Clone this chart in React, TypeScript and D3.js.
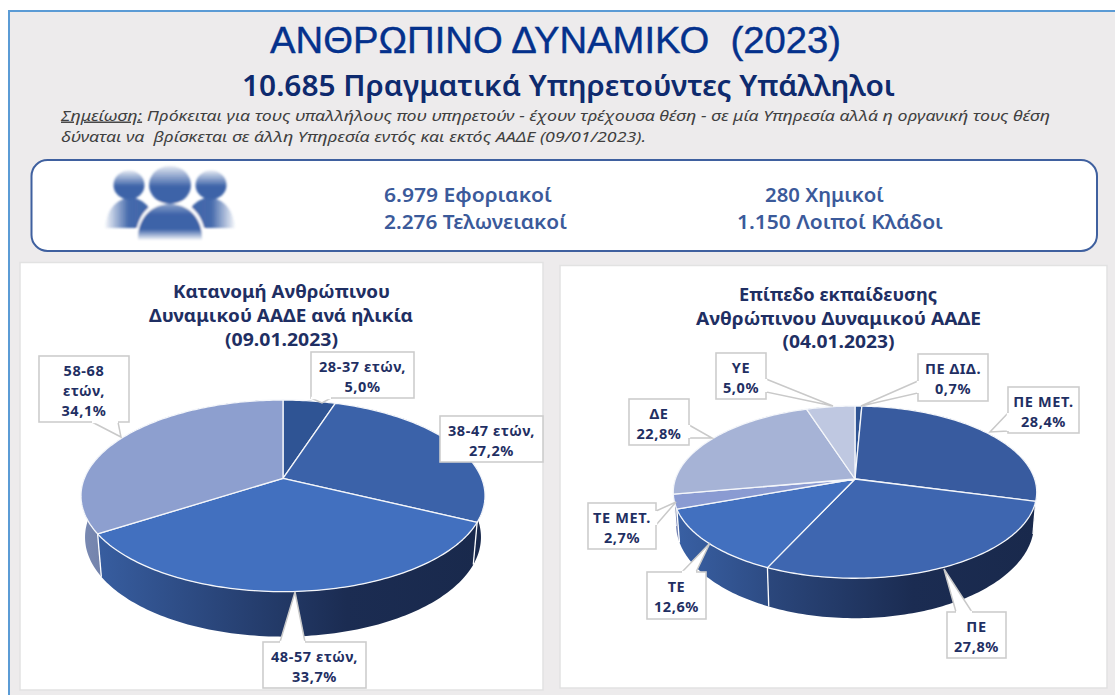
import React from "react";
import * as d3 from "d3";

const ageLabels = [["28-37 ετών,", "5,0%"], ["38-47 ετών,", "27,2%"], ["48-57 ετών,", "33,7%"], ["58-68", "ετών,", "34,1%"]];
const ageValues = [5.0, 27.2, 33.7, 34.1];
const ageColors = ["#2f5494", "#3b62a9", "#4270bf", "#8d9fcf"];

const eduLabels = [["ΠΕ ΔΙΔ.", "0,7%"], ["ΠΕ ΜΕΤ.", "28,4%"], ["ΠΕ", "27,8%"], ["ΤΕ", "12,6%"], ["ΤΕ ΜΕΤ.", "2,7%"], ["ΔΕ", "22,8%"], ["ΥΕ", "5,0%"]];
const eduValues = [0.7, 28.4, 27.8, 12.6, 2.7, 22.8, 5.0];
const eduColors = ["#2f5494", "#385b9f", "#3e66b0", "#4270bf", "#8a9bd2", "#a6b3d6", "#bfc8e1"];

const staffLeft = ["6.979 Εφοριακοί", "2.276 Τελωνειακοί"];
const staffRight = ["280 Χημικοί", "1.150 Λοιποί Κλάδοι"];
const ageTitle = ["Κατανομή Ανθρώπινου", "Δυναμικού ΑΑΔΕ ανά ηλικία", "(09.01.2023)"];
const eduTitle = ["Επίπεδο εκπαίδευσης", "Ανθρώπινου Δυναμικού ΑΑΔΕ", "(04.01.2023)"];

type Geo = { id: string; cx: number; cy: number; s: number; t: number; k: number; a: number; d: number; xs: number };
const ageGeo: Geo = { id: "age", cx: 283, cy: 478.3, s: 198.6, t: 92.6, k: 0.183, a: 1.038, d: 40.7, xs: 0.98 };
const eduGeo: Geo = { id: "edu", cx: 855, cy: 479, s: 179.6, t: 84.1, k: 0.1526, a: 1.094, d: 30.6, xs: 0.985 };

// box [x0,y0,x1,y1], wedge [bx0,by0,bx1,by1,tipx,tipy]
const ageCallouts = [
  { box: [311, 352, 414, 398], wedge: [311, 398, 331, 398, 322, 403] },
  { box: [440, 416, 543, 462], wedge: null },
  { box: [263, 642, 366, 688], wedge: [280, 642, 305, 642, 295, 592] },
  { box: [39, 356, 129, 422], wedge: [92, 422, 118, 422, 121, 437] },
];
const eduCallouts = [
  { box: [918, 354, 988, 401], wedge: [918, 381, 918, 393, 861, 406] },
  { box: [1008, 387, 1079, 433], wedge: [1008, 413, 1008, 431, 990, 432] },
  { box: [947, 612, 1006, 658], wedge: [956, 612, 972, 612, 944, 569] },
  { box: [647, 572, 706, 619], wedge: [682, 572, 696, 572, 710, 543] },
  { box: [588, 503, 656, 549], wedge: [656, 511, 656, 525, 676, 502] },
  { box: [629, 399, 689, 445], wedge: [689, 425, 689, 438, 712, 438] },
  { box: [716, 353, 766, 399], wedge: [766, 379, 766, 392, 833, 406] },
];

const SANS = "'Noto Sans', 'Open Sans', sans-serif";
const NAVY = "#1f2f63";

function Pie3D({ geo, values, colors, labels, callouts }: { geo: Geo; values: number[]; colors: string[]; labels: string[][]; callouts: any[] }) {
  const arcs = d3.pie<number>().sort(null)(values);
  const top = (ang: number): [number, number] => {
    const u = Math.sin(ang), v = -Math.cos(ang), w = 1 - geo.k * v;
    return [geo.cx + (geo.s * u) / w, geo.cy + (geo.t * v) / w];
  };
  const bot = (ang: number): [number, number] => {
    const [x, y] = top(ang);
    return [geo.cx + (x - geo.cx) * geo.xs, geo.cy + (y - geo.cy) * geo.a + geo.d];
  };
  const line = d3.line();
  const samples = (a0: number, a1: number) => {
    const n = Math.max(2, Math.ceil((a1 - a0) / 0.02));
    return d3.range(n + 1).map((i) => a0 + ((a1 - a0) * i) / n);
  };
  const dark = (c: string) => d3.interpolateRgb(c, "#000")(0.14);
  return (
    <g>
      <defs>
        {arcs.map((a, i) => (
          <linearGradient key={i} id={`${geo.id}-w${i}`} gradientUnits="userSpaceOnUse" x1={geo.cx - geo.s} x2={geo.cx + geo.s} y1={0} y2={0}>
            <stop offset="0" stopColor={dark(colors[i])} />
            <stop offset="0.66" stopColor="#1b2c52" />
            <stop offset="1" stopColor="#19294c" />
          </linearGradient>
        ))}
      </defs>
      {arcs.map((a, i) => {
        const ss = samples(a.startAngle, a.endAngle);
        const d = line([...ss.map(top), ...ss.slice().reverse().map(bot)]) + "Z";
        return <path key={i} d={d} fill={`url(#${geo.id}-w${i})`} />;
      })}
      {arcs.map((a, i) => {
        const p0 = top(a.startAngle), p1 = bot(a.startAngle);
        const front = Math.cos(a.startAngle) < 0.35;
        return front ? <line key={i} x1={p0[0]} y1={p0[1]} x2={p1[0]} y2={p1[1]} stroke="#fff" strokeWidth={1.3} /> : null;
      })}
      {arcs.map((a, i) => {
        const d = line([[geo.cx, geo.cy], ...samples(a.startAngle, a.endAngle).map(top)]) + "Z";
        return <path key={i} d={d} fill={colors[i]} stroke="#f4f6fa" strokeWidth={1.3} strokeLinejoin="round" />;
      })}
      {callouts.map((c, i) => {
        const [x0, y0, x1, y1] = c.box;
        return (
          <g key={i}>
            {c.wedge && (
              <path d={`M${c.wedge[0]},${c.wedge[1]}L${c.wedge[4]},${c.wedge[5]}L${c.wedge[2]},${c.wedge[3]}Z`} fill="#fff" stroke="#c9c9c9" strokeWidth={1.5} />
            )}
            <rect x={x0} y={y0} width={x1 - x0} height={y1 - y0} fill="#fff" stroke="#cdcdcd" strokeWidth={1.6} />
            {c.wedge && (
              <line x1={c.wedge[0]} y1={c.wedge[1]} x2={c.wedge[2]} y2={c.wedge[3]} stroke="#fff" strokeWidth={2.4} />
            )}
            {labels[i].map((l, j) => (
              <text key={j} x={(x0 + x1) / 2} y={y0 + 20 + j * 20} textAnchor="middle" fontFamily={SANS} fontWeight={700} fontSize={14.5} letterSpacing={0.6} fill={NAVY}>{l}</text>
            ))}
          </g>
        );
      })}
    </g>
  );
}

function People() {
  const bodies = [
    "M105,228 C107,208 117,199 131,197 C143,199 154,208 157,228 Z",
    "M183,228 C186,208 197,199 209,197 C223,199 233,208 235,228 Z",
  ];
  return (
    <g>
      <defs>
        <linearGradient id="pv" x1="0" x2="0" y1="0" y2="1">
          <stop offset="0" stopColor="#3d63a8" stopOpacity="0.6" />
          <stop offset="0.3" stopColor="#3d63a8" />
          <stop offset="0.7" stopColor="#3d63a8" />
          <stop offset="1" stopColor="#3d63a8" stopOpacity="0.05" />
        </linearGradient>
        <linearGradient id="psideL" x1="0" x2="1" y1="0" y2="0">
          <stop offset="0" stopColor="#3d63a8" stopOpacity="0.05" />
          <stop offset="0.45" stopColor="#3d63a8" stopOpacity="0.95" />
          <stop offset="1" stopColor="#3d63a8" />
        </linearGradient>
        <linearGradient id="psideR" x1="1" x2="0" y1="0" y2="0">
          <stop offset="0" stopColor="#3d63a8" stopOpacity="0.05" />
          <stop offset="0.45" stopColor="#3d63a8" stopOpacity="0.95" />
          <stop offset="1" stopColor="#3d63a8" />
        </linearGradient>
        <linearGradient id="phead" x1="0" x2="0" y1="0" y2="1">
          <stop offset="0" stopColor="#3d63a8" stopOpacity="0.15" />
          <stop offset="0.55" stopColor="#3d63a8" />
          <stop offset="1" stopColor="#3d63a8" />
        </linearGradient>
        <filter id="soft"><feGaussianBlur stdDeviation="1" /></filter>
      </defs>
      <g filter="url(#soft)">
        <path d={bodies[0]} fill="url(#psideL)" />
        <path d={bodies[1]} fill="url(#psideR)" />
        <ellipse cx={129} cy={185} rx={15.5} ry={14.5} fill="url(#phead)" />
        <ellipse cx={211} cy={185} rx={15.5} ry={14.5} fill="url(#phead)" />
        <path d="M135,244 C135,215 150,200 170,200 C190,200 206,215 206,244 Z" fill="#fff" />
        <ellipse cx={170} cy={185} rx={21} ry={19} fill="url(#phead)" />
        <path d="M138,240 C137,218 152,204 170,204 C188,204 203,218 202,240 Z" fill="url(#pv)" />
      </g>
    </g>
  );
}

export default function App() {
  const staffProps = { fontFamily: SANS, fontSize: 20, fontWeight: 600, fill: "#3b5a9a", lengthAdjust: "spacingAndGlyphs" } as const;
  return (
    <svg width={1115} height={695} viewBox="0 0 1115 695" style={{ position: "fixed", left: 0, top: 0, display: "block" }}>
      <rect width={1115} height={695} fill="#fff" />
      <rect x={9} y={11} width={1120} height={700} fill="#edebec" stroke="#5b9bd5" strokeWidth={2} />

      <text x={270} y={52.5} fontFamily="'Liberation Sans', Arial, sans-serif" fontSize={36} fill="#04318c" stroke="#04318c" strokeWidth={0.4} textLength={571} lengthAdjust="spacingAndGlyphs" xmlSpace="preserve">ΑΝΘΡΩΠΙΝΟ ΔΥΝΑΜΙΚΟ  (2023)</text>
      <text x={242} y={96} fontFamily={SANS} fontSize={28} fontWeight={600} fill="#0e2a6e" textLength={653} lengthAdjust="spacingAndGlyphs">10.685 Πραγματικά Υπηρετούντες Υπάλληλοι</text>

      <text x={61} y={120.5} fontFamily={SANS} fontStyle="italic" fontSize={14.5} fill="#404040" textLength={989} lengthAdjust="spacingAndGlyphs">
        <tspan textDecoration="underline">Σημείωση:</tspan> Πρόκειται για τους υπαλλήλους που υπηρετούν - έχουν τρέχουσα θέση - σε μία Υπηρεσία αλλά η οργανική τους θέση
      </text>
      <text x={61} y={141.5} fontFamily={SANS} fontStyle="italic" fontSize={14.5} fill="#404040" textLength={585} lengthAdjust="spacingAndGlyphs" xmlSpace="preserve">δύναται να  βρίσκεται σε άλλη Υπηρεσία εντός και εκτός ΑΑΔΕ (09/01/2023).</text>

      <rect x={31.5} y={160} width={1065.5} height={91} rx={16} fill="#fff" stroke="#3f609f" strokeWidth={2} />
      <People />
      <text x={384} y={201.5} {...staffProps} textLength={168}>{staffLeft[0]}</text>
      <text x={384} y={228.5} {...staffProps} textLength={183}>{staffLeft[1]}</text>
      <text x={765} y={201.5} {...staffProps} textLength={119}>{staffRight[0]}</text>
      <text x={737} y={228.5} {...staffProps} textLength={206}>{staffRight[1]}</text>

      <rect x={20} y={262.5} width={523} height={427.5} fill="#fff" stroke="#e2e2e2" strokeWidth={1.5} />
      <rect x={560} y={265.5} width={547} height={422.5} fill="#fff" stroke="#e2e2e2" strokeWidth={1.5} />

      {ageTitle.map((t, i) => (
        <text key={t} x={[173, 149, 225][i]} y={298 + i * 24} fontFamily={SANS} fontWeight={700} fontSize={17} fill={NAVY} textLength={[217, 264, 113][i]} lengthAdjust="spacingAndGlyphs">{t}</text>
      ))}
      {eduTitle.map((t, i) => (
        <text key={t} x={[739, 696, 782.5][i]} y={301 + i * 23.5} fontFamily={SANS} fontWeight={700} fontSize={17} fill={NAVY} textLength={[198, 285, 112][i]} lengthAdjust="spacingAndGlyphs">{t}</text>
      ))}

      <Pie3D geo={ageGeo} values={ageValues} colors={ageColors} labels={ageLabels} callouts={ageCallouts} />
      <Pie3D geo={eduGeo} values={eduValues} colors={eduColors} labels={eduLabels} callouts={eduCallouts} />
    </svg>
  );
}
